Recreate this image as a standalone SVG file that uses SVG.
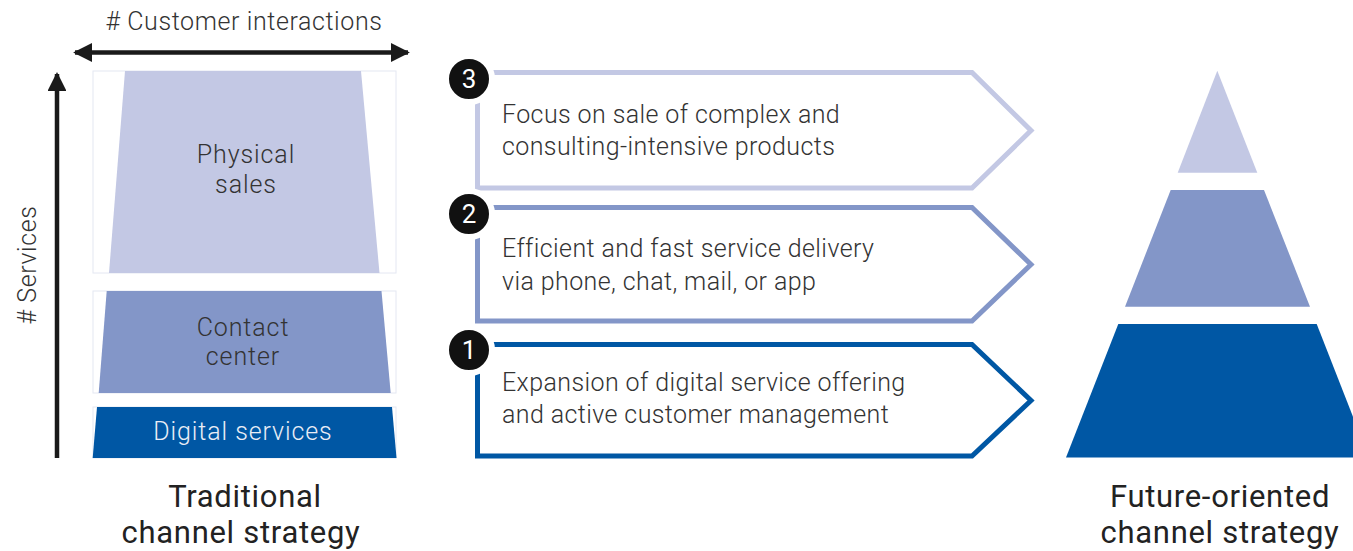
<svg xmlns="http://www.w3.org/2000/svg" width="1353" height="551" viewBox="0 0 1353 551">
  <defs>
    <style>
      .lbl { font-family: Roboto, "Liberation Sans", Arial, sans-serif; font-weight: 300; fill: #333; }
      .axis { font-size: 25px; letter-spacing: 0.6px; }
      .band { font-size: 25px; letter-spacing: 0.9px; text-anchor: middle; }
      .step { font-size: 25px; letter-spacing: 0.4px; }
      .title { font-size: 31px; letter-spacing: 0.7px; text-anchor: middle; font-weight: 400; fill: #222; }
      .num { font-family: Roboto, "Liberation Sans", Arial, sans-serif; font-size: 26px; fill: #fff; text-anchor: middle; }
      .frame { fill: #fff; stroke: #e4e7f2; stroke-width: 1; }
      .light { fill: #c3c8e4; }
      .mid { fill: #8396c8; }
      .dark { fill: #0057a4; }
      .chev { fill: #fff; stroke-width: 5; stroke-linejoin: miter; }
      .badge { fill: #111; stroke: #fff; stroke-width: 6; }
      .axisline { stroke: #1a1a1a; stroke-width: 4.5; fill: none; }
    </style>
    <marker id="head" viewBox="0 0 10 10" refX="9" refY="5" markerWidth="4.2" markerHeight="4.2" markerUnits="strokeWidth" orient="auto-start-reverse">
      <path d="M0,0 L10,5 L0,10 Z" fill="#1a1a1a"/>
    </marker>
  </defs>

  <!-- axes -->
  <g id="connectors">
    <line class="axisline" x1="75" y1="52.5" x2="408" y2="52.5" marker-start="url(#head)" marker-end="url(#head)"/>
    <line class="axisline" x1="57" y1="458" x2="57" y2="74" marker-end="url(#head)"/>
  </g>
  <text class="lbl axis" x="244" y="30" text-anchor="middle"># Customer interactions</text>
  <text class="lbl axis" transform="translate(36,265) rotate(-90)" text-anchor="middle"># Services</text>

  <!-- traditional channel stack -->
  <g id="physical-sales">
    <rect class="frame" x="93" y="71" width="303" height="202"/>
    <polygon class="light" points="125,71 361,71 379.5,273 109,273"/>
    <text class="lbl band" x="246" y="163">Physical</text>
    <text class="lbl band" x="246" y="193">sales</text>
  </g>
  <g id="contact-center">
    <rect class="frame" x="93" y="291" width="303" height="102"/>
    <polygon class="mid" points="106.7,291 381.5,291 390.7,393 98.7,393"/>
    <text class="lbl band" x="243" y="336">Contact</text>
    <text class="lbl band" x="243" y="365">center</text>
  </g>
  <g id="digital-services">
    <rect class="frame" x="93" y="407" width="303" height="51"/>
    <polygon class="dark" points="97,407 392,407 396.5,458 92.7,458"/>
    <text class="lbl band" x="243" y="440" style="fill:#e9edf6">Digital services</text>
  </g>
  <text class="lbl title" x="245" y="507">Traditional</text>
  <text class="lbl title" x="241" y="543">channel strategy</text>

  <!-- steps -->
  <g id="step-3">
    <path class="chev" stroke="#c3c8e4" d="M477.5,72.5 H972 L1031,130.5 L972,188 H477.5 Z"/>
    <circle class="badge" cx="469" cy="79" r="23"/>
    <text class="num" x="469" y="88">3</text>
    <text class="lbl step" x="502" y="123">Focus on sale of complex and</text>
    <text class="lbl step" x="502" y="155">consulting-intensive products</text>
  </g>
  <g id="step-2">
    <path class="chev" stroke="#8396c8" d="M477.5,207.5 H972 L1031,264.5 L972,321 H477.5 Z"/>
    <circle class="badge" cx="469" cy="214" r="23"/>
    <text class="num" x="469" y="223">2</text>
    <text class="lbl step" x="502" y="257">Efficient and fast service delivery</text>
    <text class="lbl step" x="502" y="290">via phone, chat, mail, or app</text>
  </g>
  <g id="step-1">
    <path class="chev" stroke="#0057a4" d="M477.5,344.5 H972 L1031,400.5 L972,456 H477.5 Z"/>
    <circle class="badge" cx="469" cy="350" r="23"/>
    <text class="num" x="469" y="359">1</text>
    <text class="lbl step" x="502" y="391">Expansion of digital service offering</text>
    <text class="lbl step" x="502" y="423">and active customer management</text>
  </g>

  <!-- future-oriented pyramid -->
  <g id="pyramid-top">
    <polygon class="light" points="1217.3,70.7 1257.3,172.7 1177.7,172.7"/>
  </g>
  <g id="pyramid-middle">
    <polygon class="mid" points="1170.7,190 1264,190 1310,306.7 1125,306.7"/>
  </g>
  <g id="pyramid-base">
    <polygon class="dark" points="1118.3,324 1316.7,324 1369,457.5 1066,457.5"/>
  </g>
  <text class="lbl title" x="1220" y="507">Future-oriented</text>
  <text class="lbl title" x="1220" y="543">channel strategy</text>
</svg>
